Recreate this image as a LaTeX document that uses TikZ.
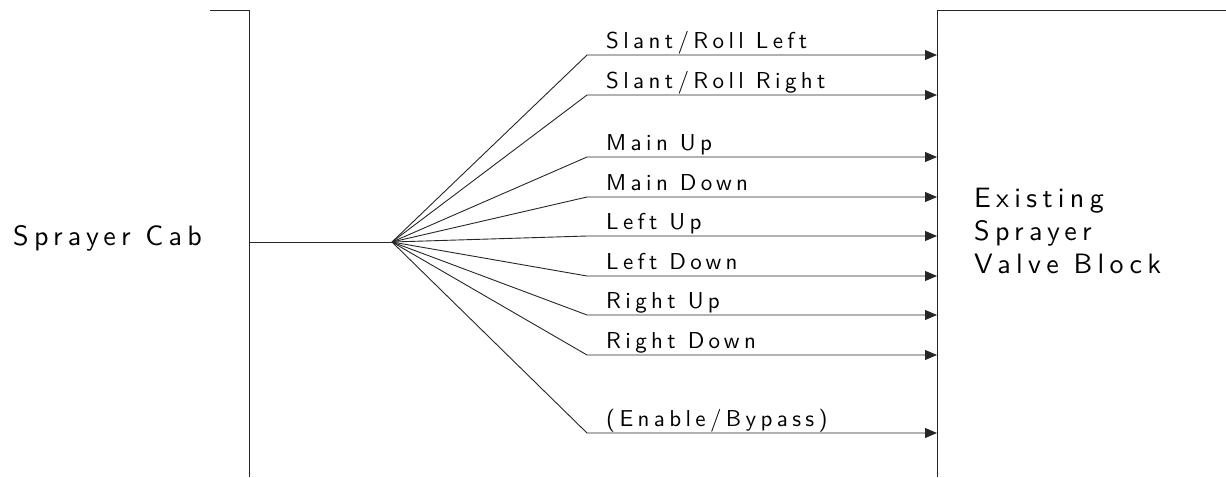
\documentclass[tikz,border=0pt]{standalone}
\usepackage{fontspec}
\newfontfamily\cadfont{lmsans10-regular.otf}[LetterSpace=19]
\usetikzlibrary{arrows.meta}
\begin{document}
\begin{tikzpicture}[x=1pt,y=-1pt,
  wire/.style={line width=0.9pt, black!85},
  sig/.style={wire, -{Triangle[length=12pt,width=10pt]}},
  lbl/.style={anchor=base west, inner sep=0pt, font=\cadfont\fontsize{23}{28}\selectfont},
  big/.style={anchor=base west, inner sep=0pt, font=\cadfont\fontsize{28}{33}\selectfont}]
\useasboundingbox (0,0) rectangle (1226,477);
% boundaries
\draw[wire] (210,10) -- (249,10) -- (249,477);
\draw[wire] (1226,10) -- (937,10) -- (937,477);
% big labels
\node[big] (cab) at (13,245) {Sprayer Cab};
\node[big] (vb1) at (974,207) {Existing};
\node[big] (vb2) at (974,240) {Sprayer};
\node[big] (vb3) at (974,273) {Valve Block};
% trunk
\coordinate (cabport) at (249,242);
\coordinate (fan) at (392,242);
\draw[wire] (cabport) -- (fan);
% branches
\foreach \i/\yy/\txt in {1/55/{Slant/Roll Left},2/95/{Slant/Roll Right},3/157/{Main Up},4/197/{Main Down},5/236/{Left Up},6/276/{Left Down},7/315/{Right Up},8/355/{Right Down},9/433/{(Enable/Bypass)}}{
  \coordinate (b\i) at (587,\yy);
  \coordinate (t\i) at (937,\yy);
  \draw[sig] (fan) -- (b\i) -- (t\i);
  \node[lbl] (l\i) at (606,\yy-7) {\txt};
}
\end{tikzpicture}
\end{document}
